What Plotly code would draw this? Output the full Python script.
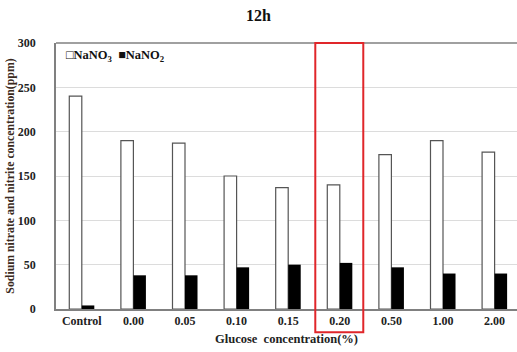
import plotly.graph_objects as go

# Glucose concentration groups and measured concentrations (ppm) at 12 h
categories = ["Control", "0.00", "0.05", "0.10", "0.15", "0.20", "0.50", "1.00", "2.00"]
nano3 = [240, 190, 187, 150, 137, 140, 174, 190, 177]
nano2 = [4, 38, 38, 47, 50, 52, 47, 40, 40]
y_ticks = [0, 50, 100, 150, 200, 250, 300]
highlight = "0.20"

font_family = "Liberation Serif, Times New Roman, serif"

fig = go.Figure()
fig.add_trace(go.Bar(
    x=categories, y=nano3, name="NaNO<sub>3</sub>",
    marker=dict(color="white", line=dict(color="#555555", width=1.2)),
))
fig.add_trace(go.Bar(
    x=categories, y=nano2, name="NaNO<sub>2</sub>",
    marker=dict(color="black", line=dict(color="black", width=0)),
))

hi = categories.index(highlight)

fig.update_layout(
    width=517, height=352,
    margin=dict(l=56, r=0, t=43, b=43),
    paper_bgcolor="white", plot_bgcolor="white",
    barmode="group", bargap=0.515, bargroupgap=0,
    showlegend=False,
    font=dict(family=font_family, color="#222222"),
    title=dict(text="<b>12h</b>", x=0.5, xanchor="center", y=0.955, yanchor="middle",
               font=dict(size=16, color="#111111")),
    xaxis=dict(
        type="category", range=[-0.5, 8.434],
        showline=True, linecolor="#808080", linewidth=1.5,
        ticks="", showgrid=False,
        tickfont=dict(size=12, color="#222222", weight="bold"),
        title=dict(text="<b>Glucose  concentration(%)</b>", standoff=7,
                   font=dict(size=12.5, color="#222222")),
    ),
    yaxis=dict(
        range=[0, 300], tickvals=y_ticks, showline=True, linecolor="#808080",
        linewidth=1.5, ticks="", showgrid=True, gridcolor="#dcdcdc", gridwidth=1,
        ticklabelstandoff=16, zeroline=False,
        tickfont=dict(size=12, color="#222222", weight="bold"),
        title=dict(text="<b>Sodium nitrate and nitrite concentration(ppm)</b>", standoff=1,
                   font=dict(size=11.8, color="#3a2a20")),
    ),
    shapes=[
        # top border of the plot box
        dict(type="line", xref="paper", yref="paper", x0=0, x1=1, y0=1, y1=1,
             line=dict(color="#808080", width=1.5)),
        # highlight box around the selected glucose level
        dict(type="rect", xref="x", yref="paper", x0=hi - 0.475, x1=hi + 0.455,
             y0=-0.087, y1=1.0, line=dict(color="#e0262a", width=2),
             fillcolor="rgba(0,0,0,0)"),
    ],
    annotations=[
        dict(text="<b>□NaNO<sub>3</sub>  ■NaNO<sub>2</sub></b>", xref="paper", yref="paper",
             x=0.017, y=0.952, xanchor="left", yanchor="middle", showarrow=False,
             font=dict(size=12.5, color="#111111")),
    ],
)

fig.write_html("out.html")
